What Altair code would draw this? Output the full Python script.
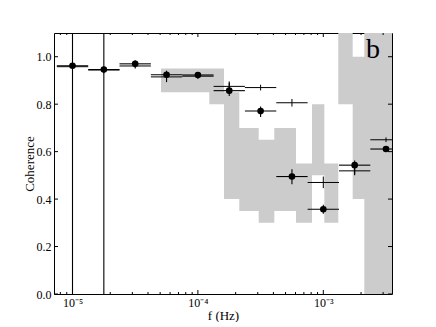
import altair as alt
import pandas as pd

# ---------------- data ----------------
freq = [1.0e-5, 1.778e-5, 3.162e-5, 5.623e-5, 1.0e-4, 1.778e-4, 3.162e-4, 5.623e-4, 1.0e-3, 1.778e-3, 3.162e-3]
freq_lo = [7.50e-6, 1.334e-5, 2.371e-5, 4.217e-5, 7.499e-5, 1.334e-4, 2.371e-4, 4.217e-4, 7.499e-4, 1.334e-3, 2.371e-3]
freq_hi = [1.334e-5, 2.371e-5, 4.217e-5, 7.499e-5, 1.334e-4, 2.371e-4, 4.217e-4, 7.499e-4, 1.334e-3, 2.371e-3, 4.217e-3]

coh = [0.962, 0.946, 0.970, 0.924, 0.923, 0.857, 0.771, 0.495, 0.357, 0.543, 0.611]
coh_lo = [0.0, 0.0, 0.955, 0.893, 0.912, 0.835, 0.746, 0.463, 0.338, 0.501, 0.600]
coh_hi = [1.2, 1.2, 0.985, 0.941, 0.934, 0.896, 0.790, 0.526, 0.376, 0.563, 0.622]

cross = [0.958, 0.944, 0.961, 0.915, 0.918, 0.875, 0.870, 0.806, 0.470, 0.519, 0.650]
cross_lo = [0.945, 0.930, 0.950, 0.902, 0.906, 0.860, 0.858, 0.790, 0.446, 0.505, 0.640]
cross_hi = [0.971, 0.958, 0.972, 0.928, 0.930, 0.890, 0.882, 0.822, 0.495, 0.533, 0.660]

# shaded band: column edges (13) and lower/upper limits per column (12)
band_edges = [5.08e-5, 1.233e-4, 1.615e-4, 2.138e-4, 3.053e-4, 4.067e-4, 6.056e-4,
              8.126e-4, 1.019e-3, 1.317e-3, 1.715e-3, 2.123e-3, 4.0e-3]
band_lo = [0.85, 0.80, 0.40, 0.35, 0.30, 0.35, 0.30, 0.50, 0.30, 0.80, 0.40, 0.00]
band_hi = [0.95, 0.95, 0.85, 0.70, 0.65, 0.70, 0.55, 0.80, 0.55, 1.20, 1.00, 1.20]

x_major = [1e-5, 1e-4, 1e-3]
x_major_text = ["10⁻⁵", "10⁻⁴", "10⁻³"]
x_minor = [8e-6, 9e-6,
           2e-5, 3e-5, 4e-5, 5e-5, 6e-5, 7e-5, 8e-5, 9e-5,
           2e-4, 3e-4, 4e-4, 5e-4, 6e-4, 7e-4, 8e-4, 9e-4,
           2e-3, 3e-3]
y_major = [0.0, 0.2, 0.4, 0.6, 0.8, 1.0]
panel_label = ["b"]

# ---------------- tables ----------------
pts = pd.DataFrame(dict(f=freq, flo=freq_lo, fhi=freq_hi, c=coh, clo=coh_lo, chi=coh_hi,
                        p=cross, plo=cross_lo, phi=cross_hi))
# step-after area: the last edge carries the last column's limits
band = pd.DataFrame(dict(e=band_edges, lo=band_lo + band_lo[-1:], hi=band_hi + band_hi[-1:]))
xmaj = pd.DataFrame(dict(t=x_major))
xmin = pd.DataFrame(dict(t=x_minor))
ymaj = pd.DataFrame(dict(t=y_major))
lab = pd.DataFrame(dict(s=panel_label))

W, H = 338, 261
FONT = "Liberation Serif"

xscale = alt.Scale(type="log", domain=[7.12e-6, 3.53e-3], nice=False)
yscale = alt.Scale(domain=[0, 1.1], nice=False, zero=False)

label_expr = "[" + ",".join("'%s'" % s for s in x_major_text) + "][round(log(datum.value)/LN10)+5]"

xaxis = alt.Axis(values=x_major, labelExpr=label_expr, ticks=False, domain=False, grid=False,
                 labelFont=FONT, labelFontSize=12, labelColor="black",
                 labelBaseline="alphabetic", labelPadding=12, labelFlush=False,
                 title="f (Hz)", titleFont=FONT, titleFontSize=13, titleFontWeight="normal",
                 titleColor="black", titleX=W / 2, titleY=25, titleBaseline="alphabetic",
                 titleAlign="center")
yaxis = alt.Axis(values=y_major, format=".1f", ticks=False, domain=False, grid=False,
                 labelFont=FONT, labelFontSize=12, labelColor="black", labelPadding=3,
                 labelFlush=False,
                 title="Coherence", titleFont=FONT, titleFontSize=13, titleFontWeight="normal",
                 titleColor="black", titleAngle=270, titleX=-21, titleY=H / 2,
                 titleBaseline="alphabetic", titleAlign="center")


def X(field):
    return alt.X(field, type="quantitative", scale=xscale, axis=xaxis)


def Y(field):
    return alt.Y(field, type="quantitative", scale=yscale, axis=yaxis)


band_layer = alt.Chart(band).mark_area(fill="#cccccc", fillOpacity=1, strokeWidth=0,
                                       interpolate="step-after", clip=True,
                                       orient="vertical").encode(
    x=X("e"), y=Y("lo"), y2=alt.Y2("hi"))

base = alt.Chart(pts)
dot_h = base.mark_rule(color="black", strokeWidth=1.1, clip=True).encode(
    x=X("flo"), x2=alt.X2("fhi"), y=Y("c"))
dot_v = base.mark_rule(color="black", strokeWidth=1.1, clip=True).encode(
    x=X("f"), y=Y("clo"), y2=alt.Y2("chi"))
cr_h = base.mark_rule(color="black", strokeWidth=1, clip=True).encode(
    x=X("flo"), x2=alt.X2("fhi"), y=Y("p"))
cr_v = base.mark_rule(color="black", strokeWidth=1, clip=True).encode(
    x=X("f"), y=Y("plo"), y2=alt.Y2("phi"))
dots = base.mark_circle(size=44, color="black", opacity=1).encode(x=X("f"), y=Y("c"))


def xticks(df, length):
    b = alt.Chart(df).mark_rule(color="black", strokeWidth=1)
    bottom = b.encode(x=X("t"), y=alt.value(H), y2=alt.value(H - length))
    top = b.encode(x=X("t"), y=alt.value(0), y2=alt.value(length))
    return [bottom, top]


yb = alt.Chart(ymaj).mark_rule(color="black", strokeWidth=1)
yt_left = yb.encode(y=Y("t"), x=alt.value(0), x2=alt.value(4))
yt_right = yb.encode(y=Y("t"), x=alt.value(W - 4), x2=alt.value(W))

label = alt.Chart(lab).mark_text(font=FONT, fontSize=28, align="left", baseline="alphabetic",
                                 color="black").encode(
    text="s:N", x=alt.value(312), y=alt.value(25))

chart = alt.layer(
    band_layer, dot_h, dot_v, cr_h, cr_v, dots,
    *xticks(xmaj, 4), *xticks(xmin, 2), yt_left, yt_right, label
).properties(
    width=W, height=H, autosize="none",
    padding={"left": 46, "top": 25, "right": 36, "bottom": 28},
    background="white",
).configure_view(stroke="black", strokeWidth=1)

chart.save("out.html", embed_options={"renderer": "svg", "actions": False})
